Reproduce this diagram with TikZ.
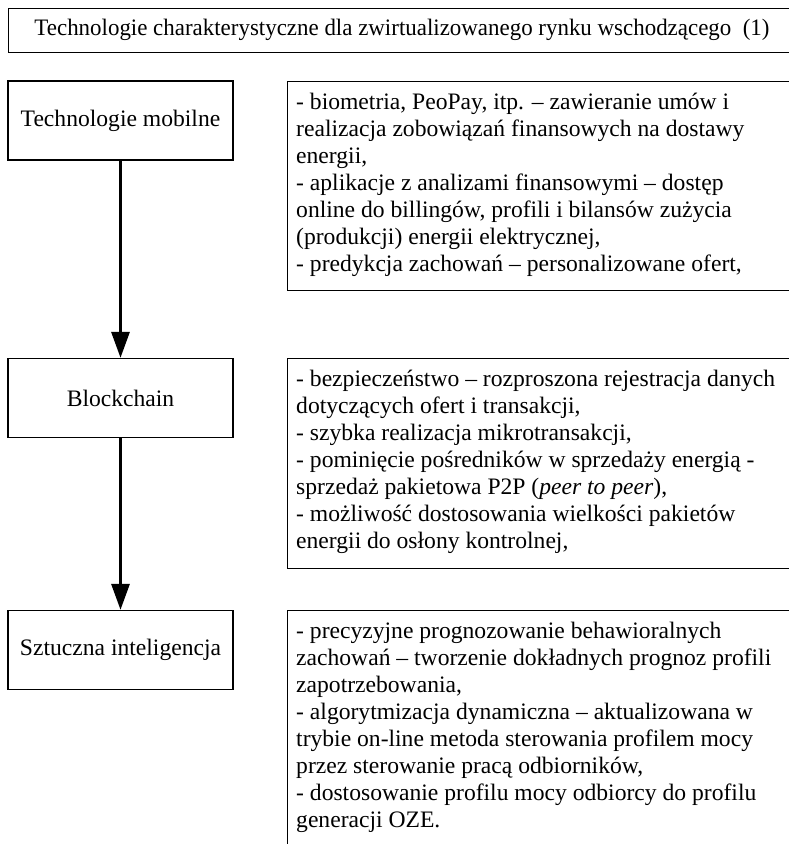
\documentclass[tikz,border=0pt]{standalone}
\usepackage{fontspec}
\usepackage{graphicx}
\setmainfont{Liberation Serif}
\usetikzlibrary{arrows.meta}
\begin{document}
\begin{tikzpicture}[x=1bp,y=-1bp,
  box/.style={draw, line width=1.3bp, inner sep=0pt},
  lbox/.style={box, minimum width=225bp, minimum height=79bp,
    font=\fontsize{23.6bp}{27bp}\selectfont},
  txt/.style={align=left, inner sep=0pt, anchor=north west,
    font=\fontsize{23.6bp}{27bp}\selectfont},
  flow/.style={line width=3bp, -{Triangle[width=18bp,length=26bp]}}]
\useasboundingbox (0,0) rectangle (789,844);
\begin{scope}
\clip (0,0) rectangle (789,844);

% heading
\node[box, anchor=north west, minimum width=790bp, minimum height=44bp] (titlebox) at (8,8) {};
\node[inner sep=0pt, font=\fontsize{23.6bp}{27bp}\selectfont] (titletext) at (402,30)
  {\resizebox{735bp}{\height}{Technologie charakterystyczne dla zwirtualizowanego rynku wschodzącego\ \ (1)}};

% technology boxes
\node[lbox] (mob) at (120.5,120.5) {Technologie mobilne};
\node[lbox] (blk) at (120.5,398) {Blockchain};
\node[lbox] (ai)  at (120.5,650) {Sztuczna inteligencja};

\draw[flow] (mob) -- (blk);
\draw[flow] (blk) -- (ai);

% description boxes
\node[box, anchor=north west, minimum width=520bp, minimum height=209bp] (d1) at (287,81) {};
\node[txt] (t1) at (296,93) {- biometria, PeoPay, itp. – zawieranie umów i\\
realizacja zobowiązań finansowych na dostawy\\
energii,\\
- aplikacje z analizami finansowymi – dostęp\\
online do billingów, profili i bilansów zużycia\\
(produkcji) energii elektrycznej,\\
- predykcja zachowań – personalizowane ofert,};

\node[box, anchor=north west, minimum width=520bp, minimum height=210bp] (d2) at (287,358) {};
\node[txt] (t2) at (296,370) {- bezpieczeństwo – rozproszona rejestracja danych\\
dotyczących ofert i transakcji,\\
- szybka realizacja mikrotransakcji,\\
- pominięcie pośredników w sprzedaży energią -\\
sprzedaż pakietowa P2P (\textit{peer to peer}),\\
- możliwość dostosowania wielkości pakietów\\
energii do osłony kontrolnej,};

\node[box, anchor=north west, minimum width=520bp, minimum height=260bp] (d3) at (287,610) {};
\node[txt] (t3) at (296,622) {- precyzyjne prognozowanie behawioralnych\\
zachowań – tworzenie dokładnych prognoz profili\\
zapotrzebowania,\\
- algorytmizacja dynamiczna – aktualizowana w\\
trybie on-line metoda sterowania profilem mocy\\
przez sterowanie pracą odbiorników,\\
- dostosowanie profilu mocy odbiorcy do profilu\\
generacji OZE.};
\end{scope}
\end{tikzpicture}
\end{document}
